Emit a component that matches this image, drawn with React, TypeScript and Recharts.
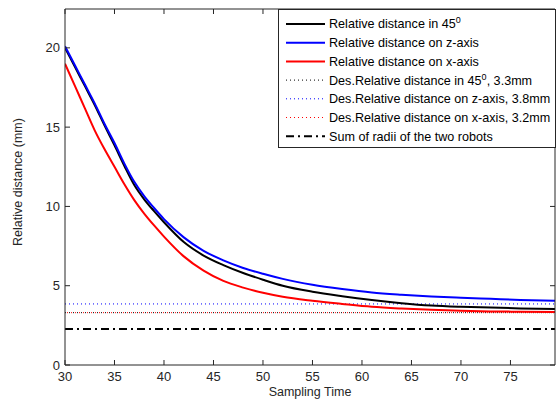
import React from 'react';
import { LineChart, Line, XAxis, YAxis, ReferenceLine } from 'recharts';

const times = [30, 31, 32, 33, 34, 35, 36, 37, 38, 39, 40, 42, 44, 46, 48, 50, 52, 55, 58, 61, 64, 67, 70, 73, 76, 79.5];
const dist45 = [20.0, 18.8, 17.6, 16.4, 15.1, 13.85, 12.55, 11.35, 10.45, 9.7, 9.0, 7.75, 6.9, 6.3, 5.8, 5.38, 5.0, 4.62, 4.34, 4.1, 3.9, 3.75, 3.67, 3.62, 3.57, 3.53];
const distZ = [20.1, 18.9, 17.7, 16.5, 15.2, 14.0, 12.7, 11.55, 10.65, 9.9, 9.2, 8.05, 7.2, 6.6, 6.12, 5.75, 5.43, 5.06, 4.79, 4.57, 4.43, 4.32, 4.24, 4.17, 4.1, 4.05];
const distX = [19.0, 17.6, 16.2, 14.8, 13.6, 12.5, 11.4, 10.4, 9.55, 8.8, 8.1, 6.85, 5.95, 5.3, 4.88, 4.55, 4.3, 4.05, 3.85, 3.67, 3.56, 3.48, 3.42, 3.38, 3.36, 3.34];
const des45 = 3.3;
const desZ = 3.85;
const desX = 3.3;
const sumRadii = 2.27;
const xTicks = [30, 35, 40, 45, 50, 55, 60, 65, 70, 75];
const yTicks = [0, 5, 10, 15, 20];
const xDomain = [30, 79.5];
const yDomain = [0, 22.45];

const data = times.map((t, i) => ({ t, d45: dist45[i], dz: distZ[i], dx: distX[i] }));

const AXIS = '#262626';
const FONT = '"Liberation Sans", Arial, sans-serif';
const TL = 5;
const XM = 7;
const YM = 5;
const TICK_FS = 13;
const LABEL_FS = 12.5;

const BottomTick = (p: any) => {
  const ay = p.y - XM;
  return (
    <g>
      <line x1={p.x} x2={p.x} y1={ay} y2={ay - TL} stroke={AXIS} strokeWidth={1} />
      <text x={p.x} y={p.y} dy="0.71em" textAnchor="middle" fontSize={TICK_FS} fill={AXIS} fontFamily={FONT}>{p.payload.value}</text>
    </g>
  );
};
const TopTick = (p: any) => (
  <line x1={p.x} x2={p.x} y1={p.y} y2={p.y + TL} stroke={AXIS} strokeWidth={1} />
);
const LeftTick = (p: any) => {
  const ax = p.x + YM;
  return (
    <g>
      <line x1={ax} x2={ax + TL} y1={p.y} y2={p.y} stroke={AXIS} strokeWidth={1} />
      <text x={p.x} y={p.y} dy="0.35em" textAnchor="end" fontSize={TICK_FS} fill={AXIS} fontFamily={FONT}>{p.payload.value}</text>
    </g>
  );
};
const RightTick = (p: any) => (
  <line x1={p.x} x2={p.x - TL} y1={p.y} y2={p.y} stroke={AXIS} strokeWidth={1} />
);

const YLabel = (p: any) => {
  const vb = p.viewBox || { y: 9, height: 356 };
  const cy = vb.y + vb.height / 2 - 5;
  return (
    <text x={22} y={cy} transform={`rotate(-90 22 ${cy})`} textAnchor="middle" fontSize={LABEL_FS} fill={AXIS} fontFamily={FONT}>
      Relative distance (mm)
    </text>
  );
};

const legendItems = [
  { color: '#000000', dash: undefined, width: 2, text: 'Relative distance in 45', sup: '0', tail: '' },
  { color: '#0000ff', dash: undefined, width: 2, text: 'Relative distance on z-axis', sup: '', tail: '' },
  { color: '#ff0000', dash: undefined, width: 2, text: 'Relative distance on x-axis', sup: '', tail: '' },
  { color: '#000000', dash: '1 3', width: 1, text: 'Des.Relative distance in 45', sup: '0', tail: ', 3.3mm' },
  { color: '#0000ff', dash: '1 3', width: 1, text: 'Des.Relative distance on z-axis, 3.8mm', sup: '', tail: '' },
  { color: '#ff0000', dash: '1 3', width: 1, text: 'Des.Relative distance on x-axis, 3.2mm', sup: '', tail: '' },
  { color: '#000000', dash: '8 4 2 4', width: 2, text: 'Sum of radii of the two robots', sup: '', tail: '' },
];

const LegendBox = () => (
  <svg width={278} height={139} style={{ position: 'absolute', left: 278, top: 9 }}>
    <rect x={0.5} y={0.5} width={277} height={138} fill="#ffffff" stroke={AXIS} strokeWidth={1} />
    {legendItems.map((it, i) => {
      const y = 15 + i * 18.7;
      return (
        <g key={i}>
          <line x1={8} x2={47} y1={y} y2={y} stroke={it.color} strokeWidth={it.width} strokeDasharray={it.dash} />
          <text x={51} y={y} dy="0.35em" fontSize={12.6} fill="#000" fontFamily={FONT}>
            {it.text}
            {it.sup ? <tspan dy={-5} fontSize={9}>{it.sup}</tspan> : null}
            {it.tail ? <tspan dy={5}>{it.tail}</tspan> : null}
          </text>
        </g>
      );
    })}
  </svg>
);

export default function App() {
  return (
    <div style={{ position: 'absolute', left: 0, top: 0, width: 556, height: 403, background: '#fff' }}>
      <LineChart width={556} height={403} data={data} margin={{ top: 8, right: 0, bottom: 0, left: 0 }} style={{ fontFamily: FONT }}>
        <XAxis xAxisId="b" dataKey="t" type="number" domain={xDomain} ticks={xTicks} allowDataOverflow
          height={38} tickSize={0} tickMargin={XM} tickLine={false} stroke={AXIS} tick={<BottomTick />}
          label={{ value: 'Sampling Time', position: 'insideBottom', offset: 7, fontSize: LABEL_FS, fill: AXIS, fontFamily: FONT }} />
        <XAxis xAxisId="t" orientation="top" dataKey="t" type="number" domain={xDomain} ticks={xTicks} allowDataOverflow
          height={1} tickSize={0} tickMargin={0} tickLine={false} stroke={AXIS} tick={<TopTick />} />
        <YAxis yAxisId="l" type="number" domain={yDomain} ticks={yTicks} allowDataOverflow width={65}
          tickSize={0} tickMargin={YM} tickLine={false} stroke={AXIS} tick={<LeftTick />} label={<YLabel />} />
        <YAxis yAxisId="r" orientation="right" type="number" domain={yDomain} ticks={yTicks} allowDataOverflow width={1}
          tickSize={0} tickMargin={0} tickLine={false} stroke={AXIS} tick={<RightTick />} />
        <ReferenceLine xAxisId="b" yAxisId="l" y={des45} stroke="#000000" strokeWidth={1} strokeDasharray="1 3" />
        <ReferenceLine xAxisId="b" yAxisId="l" y={desZ} stroke="#0000ff" strokeWidth={1} strokeDasharray="1 3" />
        <ReferenceLine xAxisId="b" yAxisId="l" y={desX} stroke="#ff0000" strokeWidth={1} strokeDasharray="1 3" strokeDashoffset={2} />
        <ReferenceLine xAxisId="b" yAxisId="l" y={sumRadii} stroke="#000000" strokeWidth={2} strokeDasharray="8 4 2 4" />
        <Line xAxisId="b" yAxisId="l" dataKey="d45" type="monotone" stroke="#000000" strokeWidth={2} dot={false} isAnimationActive={false} />
        <Line xAxisId="b" yAxisId="l" dataKey="dz" type="monotone" stroke="#0000ff" strokeWidth={2} dot={false} isAnimationActive={false} />
        <Line xAxisId="b" yAxisId="l" dataKey="dx" type="monotone" stroke="#ff0000" strokeWidth={2} dot={false} isAnimationActive={false} />
      </LineChart>
      <LegendBox />
    </div>
  );
}
